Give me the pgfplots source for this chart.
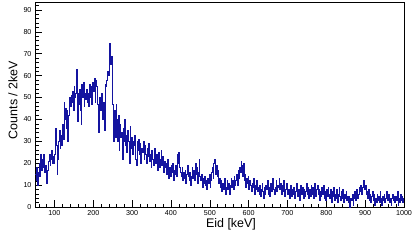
\documentclass[border=0pt]{standalone}
\usepackage{fontspec}
\setmainfont{Liberation Sans}
\usepackage{pgfplots}
\pgfplotsset{compat=1.18}
\definecolor{histblue}{RGB}{20,20,160}
\begin{document}
\begin{tikzpicture}[x=1bp,y=1bp]
\path[use as bounding box] (-35,-34) rectangle (378,207);
\begin{axis}[
  at={(0,0)}, anchor=south west,
  scale only axis, width=369bp, height=205bp,
  xmin=50, xmax=1000, ymin=0, ymax=93.6,
  xtick={100,200,...,1000},
  minor xtick={60,80,...,1000},
  ytick={0,10,...,90},
  minor ytick={0,2,...,92},
  tick pos=left, tick align=inside,
  major tick length=7bp, minor tick length=3.5bp,
  tick style={black, line width=0.4bp},
  axis line style={black, line width=0.5bp},
  ticklabel style={font=\fontsize{7.2}{9}\selectfont},
  /pgf/number format/assume math mode=true,
  /pgf/number format/1000 sep={},
  clip=true,
]
\addplot[const plot mark left, histblue, line width=0.45bp, mark=none] coordinates {
(50,15)(52,12)(54,18)(56,10)(58,16)
(60,20)(62,14)(64,24)(66,17)(68,22)
(70,18)(72,24)(74,16)(76,19)(78,14)
(80,11)(82,17)(84,21)(86,24)(88,19)
(90,22)(92,26)(94,20)(96,23)(98,20)
(100,24)(102,36)(104,28)(106,15)(108,22)
(110,30)(112,35)(114,27)(116,33)(118,28)
(120,38)(122,31)(124,48)(126,40)(128,45)
(130,36)(132,44)(134,30)(136,42)(138,50)
(140,46)(142,51)(144,48)(146,53)(148,44)
(150,55)(152,50)(154,52)(156,63)(158,39)
(160,52)(162,47)(164,54)(166,44)(168,38)
(170,56)(172,50)(174,57)(176,46)(178,52)
(180,49)(182,54)(184,48)(186,52)(188,46)
(190,56)(192,50)(194,55)(196,47)(198,57)
(200,53)(202,59)(204,48)(206,58)(208,55)
(210,47)(212,45)(214,34)(216,50)(218,44)
(220,52)(222,43)(224,40)(226,48)(228,35)
(230,56)(232,55)(234,58)(236,62)(238,60)
(240,63)(242,75)(244,65)(246,69)(248,60)
(250,47)(252,30)(254,44)(256,32)(258,47)
(260,40)(262,30)(264,42)(266,26)(268,38)
(270,32)(272,34)(274,22)(276,36)(278,30)
(280,40)(282,28)(284,33)(286,25)(288,35)
(290,30)(292,20)(294,37)(296,27)(298,32)
(300,24)(302,30)(304,28)(306,33)(308,22)
(310,19)(312,30)(314,26)(316,31)(318,24)
(320,29)(322,20)(324,27)(326,25)(328,30)
(330,22)(332,28)(334,24)(336,20)(338,27)
(340,23)(342,29)(344,21)(346,24)(348,18)
(350,26)(352,22)(354,19)(356,23)(358,27)
(360,20)(362,24)(364,17)(366,21)(368,25)
(370,18)(372,22)(374,26)(376,19)(378,23)
(380,16)(382,21)(384,18)(386,20)(388,15)
(390,22)(392,17)(394,13)(396,18)(398,14)
(400,19)(402,16)(404,20)(406,12)(408,17)
(410,15)(412,19)(414,14)(416,24)(418,20)
(420,25)(422,18)(424,16)(426,14)(428,18)
(430,12)(432,16)(434,13)(436,17)(438,11)
(440,15)(442,19)(444,14)(446,12)(448,16)
(450,10)(452,14)(454,18)(456,13)(458,17)
(460,12)(462,20)(464,15)(466,18)(468,11)
(470,16)(472,22)(474,14)(476,12)(478,15)
(480,9)(482,13)(484,11)(486,14)(488,10)
(490,12)(492,8)(494,13)(496,11)(498,15)
(500,9)(502,12)(504,16)(506,18)(508,13)
(510,20)(512,22)(514,15)(516,19)(518,14)
(520,17)(522,11)(524,13)(526,9)(528,12)
(530,7)(532,11)(534,8)(536,10)(538,13)
(540,6)(542,9)(544,12)(546,8)(548,11)
(550,6)(552,10)(554,13)(556,9)(558,12)
(560,8)(562,14)(564,10)(566,12)(568,15)
(570,10)(572,17)(574,13)(576,18)(578,16)
(580,21)(582,19)(584,14)(586,20)(588,12)
(590,15)(592,9)(594,13)(596,11)(598,14)
(600,8)(602,12)(604,10)(606,7)(608,11)
(610,9)(612,13)(614,6)(616,10)(618,8)
(620,12)(622,7)(624,9)(626,6)(628,10)
(630,5)(632,8)(634,11)(636,7)(638,4)
(640,9)(642,6)(644,10)(646,8)(648,12)
(650,6)(652,9)(654,5)(656,11)(658,7)
(660,10)(662,13)(664,8)(666,6)(668,9)
(670,12)(672,7)(674,10)(676,9)(678,13)
(680,8)(682,11)(684,6)(686,10)(688,7)
(690,12)(692,5)(694,8)(696,9)(698,11)
(700,6)(702,8)(704,4)(706,7)(708,10)
(710,5)(712,8)(714,6)(716,9)(718,4)
(720,7)(722,11)(724,6)(726,5)(728,8)
(730,3)(732,7)(734,10)(736,6)(738,9)
(740,4)(742,8)(744,5)(746,7)(748,11)
(750,6)(752,9)(754,4)(756,8)(758,5)
(760,10)(762,6)(764,9)(766,4)(768,7)
(770,11)(772,5)(774,8)(776,10)(778,6)
(780,8)(782,3)(784,7)(786,5)(788,9)
(790,6)(792,10)(794,4)(796,7)(798,3)
(800,8)(802,5)(804,9)(806,6)(808,4)
(810,8)(812,2)(814,7)(816,5)(818,9)
(820,3)(822,6)(824,4)(826,8)(828,2)
(830,6)(832,9)(834,5)(836,3)(838,7)
(840,4)(842,8)(844,2)(846,6)(848,4)
(850,7)(852,3)(854,5)(856,2)(858,5)
(860,0)(862,4)(864,3)(866,6)(868,1)
(870,4)(872,7)(874,3)(876,5)(878,8)
(880,4)(882,6)(884,9)(886,7)(888,10)
(890,6)(892,9)(894,11)(896,12)(898,8)
(900,10)(902,6)(904,7)(906,4)(908,8)
(910,3)(912,6)(914,2)(916,5)(918,7)
(920,3)(922,6)(924,1)(926,4)(928,2)
(930,6)(932,3)(934,5)(936,2)(938,7)
(940,4)(942,1)(944,5)(946,3)(948,6)
(950,2)(952,4)(954,7)(956,5)(958,3)
(960,6)(962,2)(964,4)(966,1)(968,4)
(970,6)(972,3)(974,5)(976,2)(978,5)
(980,3)(982,7)(984,1)(986,4)(988,2)
(990,6)(992,3)(994,5)(996,2)(998,4)
(1000,4)
};
\end{axis}
\node[rotate=90, font=\fontsize{12.5}{14}\selectfont] at (-22,107) {Counts / 2keV};
\node[font=\fontsize{12.5}{14}\selectfont] at (196,-17) {Eid [keV]};
\end{tikzpicture}
\end{document}
